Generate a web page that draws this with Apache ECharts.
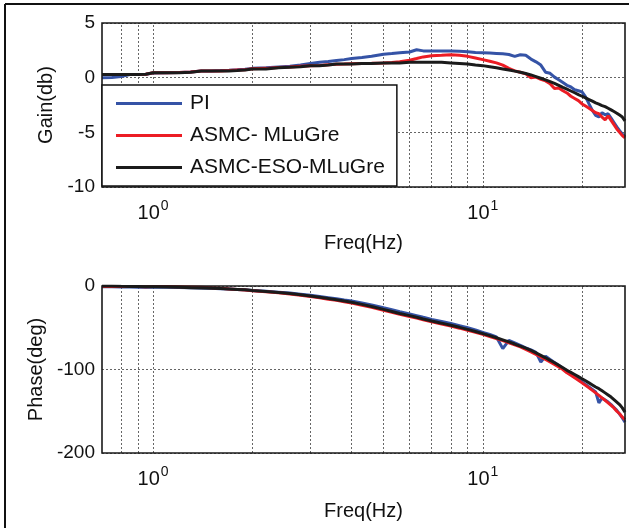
<!DOCTYPE html>
<html>
<head>
<meta charset="utf-8">
<script src="https://cdn.jsdelivr.net/npm/echarts/dist/echarts.min.js"></script>
<style>
  html, body { margin: 0; padding: 0; background: #fff; }
  #chart { width: 629px; height: 528px; }
</style>
</head>
<body>
<div id="chart"></div>
<script>
// Frequency points (Hz) of the measured response
const freq = [
  0.70, 0.75, 0.80, 0.85, 0.90, 0.95,
  1.0, 1.1, 1.2, 1.3, 1.4, 1.5, 1.6, 1.7, 1.8, 1.9,
  2.0, 2.2, 2.4, 2.6, 2.8, 3.0, 3.2, 3.4, 3.6, 3.8,
  4.0, 4.3, 4.6, 5.0, 5.3, 5.6, 6.0, 6.3, 6.6, 7.0,
  7.5, 8.0, 8.5, 9.0, 9.5, 10, 10.5, 11, 11.5, 12,
  12.5, 13, 13.5, 14, 14.5, 15, 15.5, 16, 16.5, 17,
  17.5, 18, 18.5, 19, 19.5, 20, 20.5, 21, 21.5, 22,
  22.5, 23, 23.5, 24, 24.5, 25, 25.5, 26, 26.5, 27
];

// Gain (dB)
const gainPI = [
  0.00, 0.02, 0.10, 0.28, 0.30, 0.32,
  0.42, 0.45, 0.48, 0.52, 0.60, 0.62, 0.65, 0.68, 0.72, 0.78,
  0.85, 0.90, 0.98, 1.05, 1.15, 1.30, 1.40, 1.48, 1.58, 1.65,
  1.75, 1.85, 1.95, 2.15, 2.20, 2.28, 2.35, 2.55, 2.45, 2.45,
  2.45, 2.45, 2.42, 2.38, 2.30, 2.28, 2.25, 2.22, 2.18, 2.12,
  1.95, 2.10, 2.05, 1.70, 1.45, 1.15, 0.50, 0.40, 0.05, -0.20,
  -0.45, -0.70, -0.85, -1.10, -1.20, -1.30, -1.75, -2.40, -3.00, -3.45,
  -3.60, -3.20, -3.40, -3.30, -3.70, -4.10, -4.50, -4.85, -5.15, -5.40
];
const gainASMC = [
  0.30, 0.30, 0.30, 0.30, 0.30, 0.32,
  0.45, 0.45, 0.48, 0.52, 0.60, 0.62, 0.62, 0.65, 0.70, 0.72,
  0.82, 0.85, 0.92, 0.98, 1.05, 1.10, 1.12, 1.18, 1.22, 1.25,
  1.28, 1.30, 1.32, 1.35, 1.38, 1.45, 1.60, 1.75, 1.90, 2.00,
  2.05, 2.10, 2.05, 1.95, 1.80, 1.65, 1.50, 1.35, 1.15, 0.85,
  0.62, 0.50, 0.35, 0.00, 0.05, -0.15, -0.30, -0.55, -1.00, -0.95,
  -1.20, -1.40, -1.70, -1.90, -2.10, -2.40, -2.60, -2.80, -3.00, -3.20,
  -3.30, -3.60, -3.85, -3.50, -3.90, -4.30, -4.70, -5.00, -5.30, -5.50
];
const gainESO = [
  0.30, 0.30, 0.30, 0.30, 0.30, 0.32,
  0.45, 0.45, 0.45, 0.50, 0.60, 0.60, 0.60, 0.62, 0.65, 0.70,
  0.80, 0.80, 0.90, 0.95, 1.00, 1.10, 1.10, 1.15, 1.25, 1.25,
  1.25, 1.30, 1.30, 1.35, 1.35, 1.35, 1.40, 1.40, 1.40, 1.42,
  1.40, 1.35, 1.30, 1.25, 1.15, 1.10, 1.00, 0.90, 0.80, 0.70,
  0.60, 0.50, 0.38, 0.25, 0.10, -0.05, -0.20, -0.36, -0.52, -0.70,
  -0.88, -1.05, -1.22, -1.38, -1.55, -1.70, -1.85, -2.00, -2.15, -2.30,
  -2.42, -2.55, -2.65, -2.80, -2.95, -3.10, -3.25, -3.42, -3.60, -3.95
];

// Phase (deg)
const phasePI = [
  -1.0, -1.0, -1.2, -1.3, -1.4, -1.5,
  -1.5, -1.6, -1.8, -2.1, -2.4, -2.8, -3.2, -3.6, -4.1, -4.6,
  -5.3, -6.3, -7.4, -8.5, -9.8, -11.2, -12.6, -14.0, -15.3, -16.7,
  -18.0, -20.3, -22.6, -26.0, -28.3, -30.7, -33.5, -35.5, -37.5, -40.0,
  -42.5, -45.0, -47.5, -50.0, -52.5, -55.5, -58.0, -61.0, -75.0, -65.0,
  -68.0, -71.0, -74.0, -76.5, -79.5, -91.0, -84.0, -88.0, -91.5, -95.0,
  -98.5, -102.0, -105.5, -109.0, -112.0, -115.0, -118.0, -121.0, -124.0, -127.0,
  -140.0, -134.0, -136.5, -139.0, -142.0, -145.5, -149.0, -153.5, -158.0, -163.0
];
const phaseASMC = [
  -0.5, -0.5, -0.5, -0.6, -0.7, -0.8,
  -0.5, -0.5, -0.8, -1.2, -1.6, -2.0, -2.8, -3.6, -4.2, -4.8,
  -5.8, -7.0, -8.2, -9.5, -11.0, -12.5, -14.0, -15.8, -17.2, -18.8,
  -20.5, -23.0, -25.5, -29.0, -31.5, -34.0, -36.5, -38.5, -40.5, -43.0,
  -45.5, -48.0, -50.5, -53.0, -55.5, -58.0, -60.5, -63.0, -65.5, -68.0,
  -70.5, -73.0, -76.0, -79.0, -82.0, -85.0, -88.0, -91.0, -94.0, -97.0,
  -100.0, -104.0, -107.0, -110.0, -113.0, -116.0, -119.0, -122.0, -125.0, -128.0,
  -131.0, -134.0, -137.0, -140.0, -143.0, -146.0, -150.0, -153.0, -157.0, -160.0
];
const phaseESO = [
  0.0, 0.0, -0.3, -0.5, -0.7, -0.9,
  -1.0, -1.3, -1.6, -2.0, -2.3, -2.7, -3.1, -3.6, -4.1, -4.6,
  -5.5, -6.6, -7.8, -9.0, -10.4, -12.0, -13.5, -15.0, -16.5, -18.0,
  -19.5, -22.0, -24.5, -28.0, -30.5, -33.0, -35.5, -37.5, -39.5, -42.0,
  -44.5, -47.0, -49.5, -52.0, -54.5, -57.0, -59.5, -62.0, -64.5, -67.0,
  -69.5, -72.0, -74.5, -77.0, -80.0, -83.0, -86.0, -89.0, -92.0, -95.0,
  -98.0, -101.0, -103.5, -106.0, -108.5, -111.0, -113.5, -116.0, -118.5, -121.0,
  -123.0, -125.5, -128.0, -130.5, -133.0, -136.0, -139.0, -142.0, -146.0, -151.0
];

const seriesNames = ['PI', 'ASMC- MLuGre', 'ASMC-ESO-MLuGre'];
const seriesColors = ['#3553a6', '#ec1c24', '#1b1b1b'];

// Log-grid positions (Hz) and axis ranges
const gridFreqs = [0.8, 0.9, 1, 2, 3, 4, 5, 6, 7, 8, 9, 10, 20];
const freqMin = 0.7, freqMax = 27;
const gainTicks = { min: -10, max: 5, step: 5 };
const phaseTicks = { min: -200, max: 0, step: 100 };

const FONT = 'Liberation Sans, Arial, sans-serif';
const pairs = v => freq.map((f, i) => [f, v[i]]);

function decadeLabel(v) {
  const e = Math.log10(v);
  const r = Math.round(e);
  if (Math.abs(e - r) > 1e-6) return '';
  return '{m|10}{s|' + r + '}';
}

function xAxisCfg(idx, gap) {
  return {
    type: 'log', logBase: 10, gridIndex: idx,
    min: freqMin, max: freqMax,
    name: 'Freq(Hz)', nameLocation: 'middle', nameGap: gap,
    nameTextStyle: { fontFamily: FONT, fontSize: 20, color: '#111' },
    axisLine: { show: false },
    axisTick: { show: false },
    splitLine: { show: false },
    axisLabel: {
      formatter: decadeLabel, margin: 12, showMinLabel: false, showMaxLabel: false,
      rich: {
        m: { fontFamily: FONT, fontSize: 20, color: '#111' },
        s: { fontFamily: FONT, fontSize: 14, color: '#111', verticalAlign: 'bottom', padding: [0, 0, 15, 1] }
      }
    }
  };
}

function yAxisCfg(idx, t, name, gap) {
  return {
    type: 'value', gridIndex: idx,
    min: t.min, max: t.max, interval: t.step,
    name: name, nameLocation: 'middle', nameGap: gap, nameRotate: 90,
    nameTextStyle: { fontFamily: FONT, fontSize: 20, color: '#111' },
    axisLine: { show: false },
    axisTick: { show: false },
    axisLabel: { fontFamily: FONT, fontSize: 19, color: '#111', margin: 7 },
    splitLine: { show: true, lineStyle: { color: '#666', width: 1, type: [2, 2] } }
  };
}

function gridLines() {
  return {
    silent: true, symbol: ['none', 'none'], z: 1,
    label: { show: false },
    lineStyle: { color: '#666', width: 1, type: [2, 2] },
    emphasis: { disabled: true },
    data: gridFreqs.map(f => ({ xAxis: f }))
  };
}

function curve(name, color, data, xi, withGrid) {
  const s = {
    name: name, type: 'line', xAxisIndex: xi, yAxisIndex: xi,
    data: pairs(data), showSymbol: false, symbol: 'none',
    color: color, lineStyle: { width: 3, color: color },
    emphasis: { disabled: true }, z: 2
  };
  if (withGrid) s.markLine = gridLines();
  return s;
}

const chart = echarts.init(document.getElementById('chart'), null, { renderer: 'canvas' });
chart.setOption({
  animation: false,
  backgroundColor: '#fff',
  grid: [
    { left: 102, top: 23, width: 523, height: 164, show: true, borderColor: '#1a1a1a', borderWidth: 1.6, backgroundColor: 'transparent', outerBoundsMode: 'none', z: 3 },
    { left: 102, top: 286, width: 523, height: 167, show: true, borderColor: '#1a1a1a', borderWidth: 1.6, backgroundColor: 'transparent', outerBoundsMode: 'none', z: 3 }
  ],
  xAxis: [xAxisCfg(0, 46), xAxisCfg(1, 48)],
  yAxis: [yAxisCfg(0, gainTicks, 'Gain(db)', 40), yAxisCfg(1, phaseTicks, 'Phase(deg)', 45)],
  legend: {
    data: seriesNames, orient: 'vertical', left: 102, top: 85,
    selectedMode: false, icon: 'rect', itemWidth: 66, itemHeight: 3, itemGap: 11,
    padding: [8, 12, 8, 14],
    backgroundColor: '#fff', borderColor: '#111', borderWidth: 1.5, borderRadius: 0,
    textStyle: { fontFamily: FONT, fontSize: 21, color: '#111', lineHeight: 21, padding: [0, 0, 0, 3] },
    z: 5
  },
  graphic: [
    { type: 'line', shape: { x1: 5, y1: 4, x2: 629, y2: 4 }, style: { stroke: '#111', lineWidth: 2 }, silent: true },
    { type: 'line', shape: { x1: 5, y1: 4, x2: 5, y2: 528 }, style: { stroke: '#111', lineWidth: 2 }, silent: true }
  ],
  series: [
    curve(seriesNames[0], seriesColors[0], gainPI, 0, true),
    curve(seriesNames[1], seriesColors[1], gainASMC, 0, false),
    curve(seriesNames[2], seriesColors[2], gainESO, 0, false),
    curve(seriesNames[0], seriesColors[0], phasePI, 1, true),
    curve(seriesNames[1], seriesColors[1], phaseASMC, 1, false),
    curve(seriesNames[2], seriesColors[2], phaseESO, 1, false)
  ]
});
</script>
</body>
</html>
